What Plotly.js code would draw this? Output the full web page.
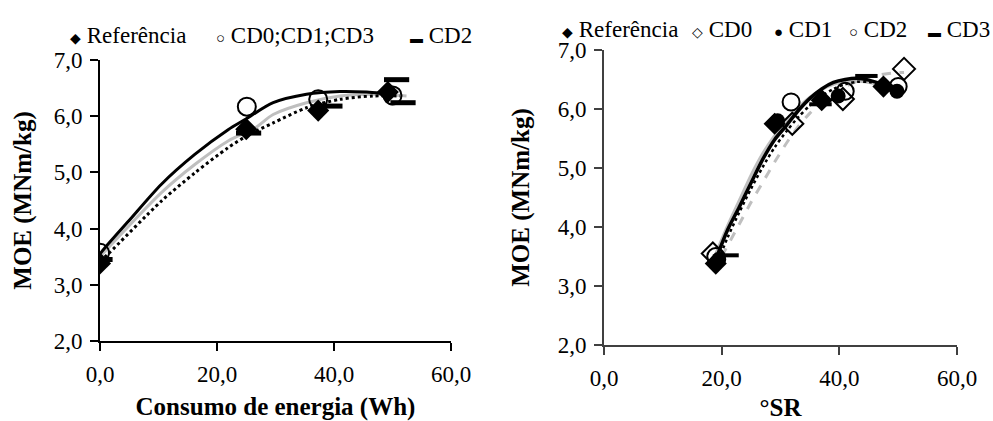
<!DOCTYPE html>
<html>
<head>
<meta charset="utf-8">
<script src="https://cdn.plot.ly/plotly-3.0.1.min.js"></script>
<style>
html,body{margin:0;padding:0;background:#fff;}
#chart{width:993px;height:421px;}
</style>
</head>
<body>
<div id="chart"></div>
<script>
// ---------- Left panel: MOE vs energy consumption ----------
const L_refX = [0, 25, 37.3, 49.2];
const L_refY = [3.38, 5.77, 6.1, 6.43];
const L_cdX = [0, 25.1, 37.3, 50];
const L_cdY = [3.57, 6.17, 6.3, 6.37];
const L_cd2X = [0, 25.4, 39.3, 50.7, 51.8];
const L_cd2Y = [3.45, 5.7, 6.18, 6.65, 6.24];

// trend lines
const L_fitCdX = [0, 0.85, 4.85, 10.5, 16.2, 21.9, 24.8, 29.6, 35.3, 41, 45.6, 47.9];
const L_fitCdY = [3.55, 3.66, 4.13, 4.79, 5.32, 5.76, 5.94, 6.24, 6.39, 6.44, 6.43, 6.41];
const L_fitGrayX = [0, 10.5, 16.2, 21.9, 26.5, 29.6, 35.3, 41, 46.7, 52.4];
const L_fitGrayY = [3.5, 4.64, 5.14, 5.56, 5.79, 6.03, 6.24, 6.36, 6.39, 6.36];
const L_fitDotX = [0, 1.4, 10.5, 16.2, 21.9, 25.6, 29.6, 35.3, 41, 46.7, 51.3];
const L_fitDotY = [3.42, 3.55, 4.49, 4.99, 5.44, 5.68, 5.88, 6.15, 6.3, 6.36, 6.36];

// ---------- Right panel: MOE vs °SR ----------
const R_refX = [19, 29, 37, 47.5];
const R_refY = [3.38, 5.75, 6.15, 6.38];
const R_cd0X = [18.5, 32, 40.6, 51];
const R_cd0Y = [3.55, 5.75, 6.17, 6.68];
const R_cd1X = [19.5, 29.5, 39.8, 49.8];
const R_cd1Y = [3.45, 5.8, 6.22, 6.3];
const R_cd2X = [19, 31.8, 41, 50];
const R_cd2Y = [3.5, 6.12, 6.3, 6.38];
const R_cd3X = [21, 36.8, 44.6, 48.5];
const R_cd3Y = [3.52, 6.08, 6.56, 6.33];

const R_fitBlackX = [19, 21, 23, 25, 27, 29, 31, 33, 35, 37, 39, 41, 43, 45, 47, 49, 50];
const R_fitBlackY = [3.45, 3.95, 4.34, 4.75, 5.15, 5.48, 5.72, 5.97, 6.18, 6.34, 6.45, 6.5, 6.52, 6.49, 6.43, 6.35, 6.3];
const R_fitGrayX = [18.8, 21, 23, 25, 27, 29, 31, 33, 35, 37, 39, 41, 43, 45, 47, 49, 50.5];
const R_fitGrayY = [3.5, 4.02, 4.45, 4.88, 5.25, 5.55, 5.8, 6.02, 6.2, 6.33, 6.42, 6.46, 6.47, 6.45, 6.41, 6.36, 6.32];
const R_fitDotX = [19.5, 21, 23, 25, 27, 29, 31, 33, 35, 37, 39, 41, 43, 45, 47, 49, 50];
const R_fitDotY = [3.45, 3.82, 4.25, 4.65, 5.02, 5.35, 5.62, 5.86, 6.06, 6.22, 6.34, 6.42, 6.46, 6.46, 6.43, 6.38, 6.34];
const R_fitDashX = [20, 23, 25, 27, 29, 31, 33, 35, 37, 39, 41, 43, 45, 47, 49, 51];
const R_fitDashY = [3.5, 4.05, 4.42, 4.76, 5.1, 5.42, 5.7, 5.93, 6.12, 6.27, 6.38, 6.47, 6.54, 6.58, 6.61, 6.62];

const BLACK = '#000000';
const GRAY = '#bfbfbf';
const AX2 = '#404040';

function line(x, y, xa, ya, color, width, dash) {
  return {x: x, y: y, xaxis: xa, yaxis: ya, type: 'scatter', mode: 'lines',
    line: {color: color, width: width, dash: dash || 'solid', shape: 'spline', smoothing: 0.8},
    showlegend: false, hoverinfo: 'skip'};
}
function pts(x, y, xa, ya, symbol, size, color, lw) {
  return {x: x, y: y, xaxis: xa, yaxis: ya, type: 'scatter', mode: 'markers',
    marker: {symbol: symbol, size: size, color: color, line: {color: BLACK, width: lw}},
    showlegend: false};
}

const traces = [
  line(L_fitGrayX, L_fitGrayY, 'x', 'y', GRAY, 3),
  line(L_fitDotX, L_fitDotY, 'x', 'y', BLACK, 3, 'dot'),
  line(L_fitCdX, L_fitCdY, 'x', 'y', BLACK, 3),
  pts(L_refX, L_refY, 'x', 'y', 'diamond', 17, BLACK, 0),
  pts(L_cdX, L_cdY, 'x', 'y', 'circle-open', 18, BLACK, 2),
  pts(L_cd2X, L_cd2Y, 'x', 'y', 'line-ew', 18, BLACK, 5),

  line(R_fitDashX, R_fitDashY, 'x2', 'y2', GRAY, 3, 'dash'),
  line(R_fitGrayX, R_fitGrayY, 'x2', 'y2', GRAY, 3),
  line(R_fitDotX, R_fitDotY, 'x2', 'y2', BLACK, 2.5, 'dot'),
  line(R_fitBlackX, R_fitBlackY, 'x2', 'y2', BLACK, 3.5),
  pts(R_refX, R_refY, 'x2', 'y2', 'diamond', 17, BLACK, 0),
  pts(R_cd0X, R_cd0Y, 'x2', 'y2', 'diamond-open', 17, BLACK, 2),
  pts(R_cd1X, R_cd1Y, 'x2', 'y2', 'circle', 15, BLACK, 0),
  pts(R_cd2X, R_cd2Y, 'x2', 'y2', 'circle-open', 17, BLACK, 2),
  pts(R_cd3X, R_cd3Y, 'x2', 'y2', 'line-ew', 16, BLACK, 4)
];

const FONT = 'Liberation Serif';
const W = 993, H = 421;
const px = v => v / W;
const py = v => 1 - v / H;

function xaxis(domain, color, title) {
  return {domain: domain, range: [0, 60], dtick: 20, tick0: 0, tickformat: '.1f',
    showgrid: false, zeroline: false, showline: true, linecolor: color, linewidth: 2,
    ticks: 'outside', ticklen: 8, tickwidth: 2, tickcolor: color, ticklabelstandoff: 3,
    tickfont: {family: FONT, size: 23, color: '#000'},
    title: {text: title, font: {family: FONT, size: 25, color: '#000'}, standoff: 13},
    fixedrange: true};
}
function yaxis(domain, color, anchor, standoff) {
  return {domain: domain, range: [2, 7], dtick: 1, tick0: 2, tickformat: '.1f', anchor: anchor,
    showgrid: false, zeroline: false, showline: true, linecolor: color, linewidth: 2,
    ticks: 'outside', ticklen: 8, tickwidth: 2, tickcolor: color, ticklabelstandoff: 3,
    tickfont: {family: FONT, size: 23, color: '#000'},
    title: {text: '<b>MOE (MNm/kg)</b>', font: {family: FONT, size: 25, color: '#000'}, standoff: standoff},
    fixedrange: true};
}

function leg(xPix, yPix, sym, label, symSize) {
  return {xref: 'paper', yref: 'paper', x: px(xPix), y: py(yPix), xanchor: 'left', yanchor: 'middle',
    showarrow: false,
    text: '<span style="font-size:' + symSize + 'px">' + sym + '</span> ' + label,
    font: {family: FONT, size: 23, color: '#000'}};
}

const layout = {
  width: W, height: H,
  margin: {l: 0, r: 0, t: 0, b: 0},
  paper_bgcolor: '#fff', plot_bgcolor: '#fff',
  font: {family: FONT, color: '#000'},
  separators: ',.',
  showlegend: false,
  xaxis: xaxis([px(100), px(451)], BLACK, '<b>Consumo de energia (Wh)</b>'),
  yaxis: yaxis([1 - 341 / H, 1 - 60 / H], BLACK, 'x', 15),
  xaxis2: Object.assign(xaxis([px(604), px(957)], AX2, '<b>°SR</b>'), {anchor: 'y2'}),
  yaxis2: yaxis([1 - 345 / H, 1 - 50 / H], AX2, 'x2', 21),
  annotations: [
    leg(68, 36, '◆', 'Referência', 14),
    leg(214, 36, '○', 'CD0;CD1;CD3', 15),
    leg(408, 36, '▬', 'CD2', 13),
    leg(560, 29, '◆', 'Referência', 14),
    leg(690, 29, '◇', 'CD0', 14),
    leg(772, 29, '●', 'CD1', 15),
    leg(847, 29, '○', 'CD2', 15),
    leg(926, 29, '▬', 'CD3', 13)
  ]
};

Plotly.newPlot('chart', traces, layout, {displayModeBar: false, staticPlot: true});
</script>
</body>
</html>
